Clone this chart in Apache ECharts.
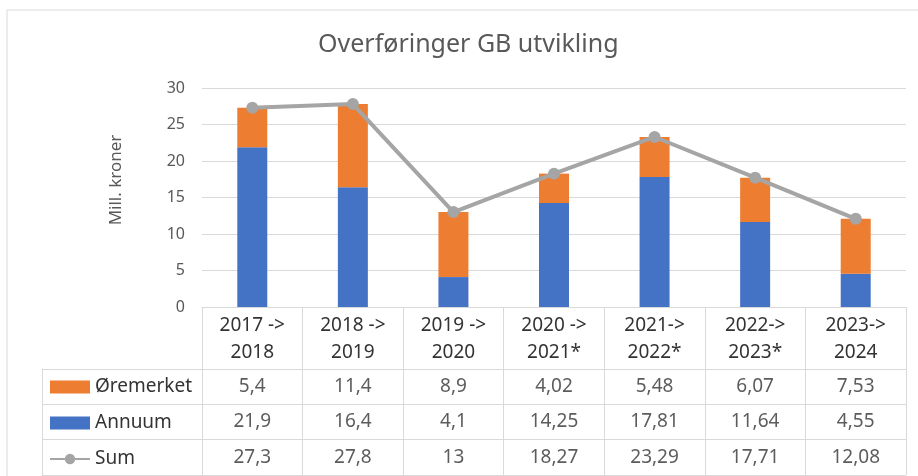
<!DOCTYPE html>
<html lang="no">
<head>
    <meta charset="utf-8" />
    <title>Overføringer GB utvikling</title>
    <script src="https://cdn.jsdelivr.net/npm/echarts@6/dist/echarts.min.js"></script>
</head>
<body style="margin:0;background:#fff;">
<div id="chart" style="width:918px;height:476px;"></div>
<script>
    var categories = ['2017 ->\n2018', '2018 ->\n2019', '2019 ->\n2020', '2020 ->\n2021*', '2021->\n2022*', '2022->\n2023*', '2023->\n2024'];
    var rowNames = ['Øremerket', 'Annuum', 'Sum'];
    var oremerket = [5.4, 11.4, 8.9, 4.02, 5.48, 6.07, 7.53];
    var annuum = [21.9, 16.4, 4.1, 14.25, 17.81, 11.64, 4.55];
    var sum = [27.3, 27.8, 13, 18.27, 23.29, 17.71, 12.08];
    var yMin = 0, yMax = 30, yStep = 5;

    var font = 'Noto Sans';
    var gridColor = '#d9d9d9';

    // cells of the data table: [column, row, value]
    var tableCells = [];
    [oremerket, annuum, sum].forEach(function (row, r) {
        row.forEach(function (v, c) {
            tableCells.push([c, r, v]);
        });
    });

    function fmt(v) {
        return String(v).replace('.', ',');
    }

    var myChart = echarts.init(document.getElementById('chart'));
    var option = {
        animation: false,
        textStyle: { fontFamily: font },
        title: {
            text: 'Overføringer GB utvikling',
            left: 318,
            top: 32,
            padding: 0,
            textStyle: { fontFamily: font, fontSize: 25, fontWeight: 'normal', color: '#595959' }
        },
        graphic: [{
            type: 'rect',
            shape: { x: 7, y: 10, width: 1000, height: 1000 },
            style: { fill: 'none', stroke: gridColor, lineWidth: 1 },
            silent: true
        }],
        legend: {
            orient: 'vertical',
            left: 49,
            top: 377,
            padding: 0,
            itemWidth: 40,
            itemHeight: 13,
            itemGap: 16,
            textStyle: { fontFamily: font, fontSize: 19, lineHeight: 20, color: '#333' },
            data: [
                { name: 'Øremerket', icon: 'rect' },
                { name: 'Annuum', icon: 'rect' },
                { name: 'Sum' }
            ]
        },
        grid: [
            { left: 202, right: 12, top: 88, height: 219 },
            { left: 202, right: 12, top: 369, height: 106 }
        ],
        xAxis: [{
            type: 'category',
            gridIndex: 0,
            data: categories,
            axisLine: { show: true, lineStyle: { color: gridColor } },
            axisTick: { show: true, length: 62, lineStyle: { color: gridColor } },
            axisLabel: { margin: 5, fontSize: 19, lineHeight: 27, color: '#333', fontFamily: font }
        }, {
            type: 'category',
            gridIndex: 1,
            data: categories,
            axisLine: { show: false },
            axisTick: { show: false },
            axisLabel: { show: false },
            splitLine: { show: true, lineStyle: { color: gridColor } }
        }],
        yAxis: [{
            type: 'value',
            gridIndex: 0,
            min: yMin,
            max: yMax,
            interval: yStep,
            name: 'Mill. kroner',
            nameLocation: 'middle',
            nameGap: 77,
            nameTextStyle: { fontFamily: font, fontSize: 17, color: '#595959', padding: [0, 0, 0, 35] },
            axisLine: { show: false },
            axisTick: { show: false },
            axisLabel: { margin: 17, fontSize: 16, color: '#595959', fontFamily: font },
            splitLine: { lineStyle: { color: gridColor } }
        }, {
            type: 'category',
            gridIndex: 1,
            data: rowNames,
            inverse: true,
            axisLine: { show: false },
            axisTick: { show: true, length: 160, lineStyle: { color: gridColor } },
            axisLabel: { show: false },
            splitLine: { show: true, lineStyle: { color: gridColor } }
        }, {
            type: 'category',
            gridIndex: 1,
            data: rowNames,
            inverse: true,
            position: 'left',
            offset: 160,
            axisLine: { show: true, lineStyle: { color: gridColor } },
            axisTick: { show: false },
            axisLabel: { show: false }
        }],
        series: [{
            name: 'Annuum',
            type: 'bar',
            stack: 'gb',
            barWidth: 30,
            itemStyle: { color: '#4472C4' },
            data: annuum
        }, {
            name: 'Øremerket',
            type: 'bar',
            stack: 'gb',
            barWidth: 30,
            itemStyle: { color: '#ED7D31' },
            data: oremerket
        }, {
            name: 'Sum',
            type: 'line',
            symbol: 'circle',
            symbolSize: 12,
            itemStyle: { color: '#A5A5A5' },
            lineStyle: { color: '#A5A5A5', width: 4 },
            data: sum
        }, {
            name: 'tabell',
            type: 'scatter',
            xAxisIndex: 1,
            yAxisIndex: 1,
            symbolSize: 1,
            itemStyle: { color: 'transparent' },
            silent: true,
            label: {
                show: true,
                position: 'inside',
                fontFamily: font,
                fontSize: 19,
                color: '#333',
                formatter: function (p) { return fmt(p.value[2]); }
            },
            data: tableCells
        }]
    };
    myChart.setOption(option);
</script>
</body>
</html>
